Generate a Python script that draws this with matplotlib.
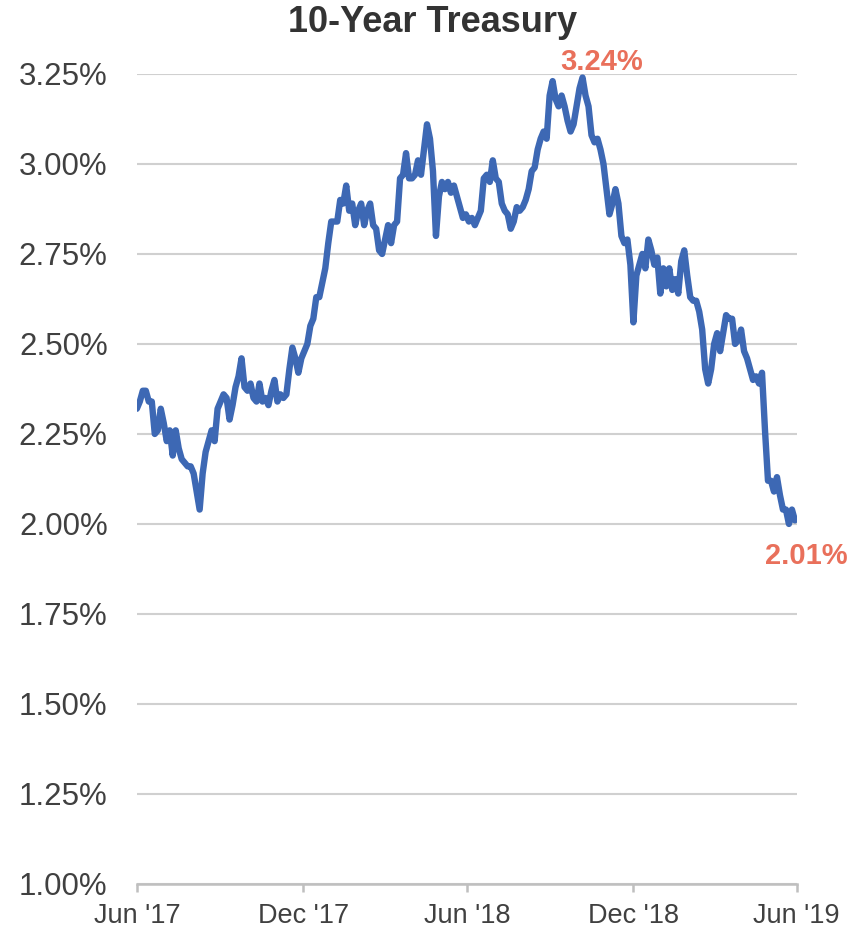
import pandas as pd
import matplotlib.pyplot as plt
import matplotlib.dates as mdates
from matplotlib.ticker import MultipleLocator, FuncFormatter, FixedLocator

plt.rcParams['font.family'] = ['Liberation Sans', 'DejaVu Sans']

# 10-year treasury yield (%), sampled roughly every 3-4 days, Jun 30 2017 .. Jun 28 2019
yields = [
    2.32, 2.34, 2.37, 2.37, 2.34, 2.34, 2.25, 2.26, 2.32, 2.28,
    2.23, 2.26, 2.19, 2.26, 2.21, 2.18, 2.17, 2.16, 2.16, 2.14,
    2.09, 2.04, 2.14, 2.20, 2.23, 2.26, 2.23, 2.32, 2.34, 2.36,
    2.35, 2.29, 2.33, 2.38, 2.41, 2.46, 2.38, 2.37, 2.39, 2.35,
    2.34, 2.39, 2.34, 2.35, 2.33, 2.37, 2.40, 2.34, 2.36, 2.35,
    2.36, 2.43, 2.49, 2.46, 2.42, 2.46, 2.48, 2.50, 2.55, 2.57,
    2.63, 2.63, 2.67, 2.71, 2.78, 2.84, 2.84, 2.84, 2.90, 2.89,
    2.94, 2.87, 2.89, 2.83, 2.87, 2.89, 2.83, 2.87, 2.89, 2.83,
    2.82, 2.76, 2.75, 2.79, 2.83, 2.78, 2.83, 2.84, 2.96, 2.97,
    3.03, 2.96, 2.96, 2.97, 3.01, 2.97, 3.04, 3.11, 3.07, 2.98,
    2.80, 2.91, 2.95, 2.93, 2.95, 2.92, 2.94, 2.91, 2.88, 2.85,
    2.86, 2.84, 2.85, 2.83, 2.85, 2.87, 2.96, 2.97, 2.95, 3.01,
    2.96, 2.95, 2.89, 2.87, 2.86, 2.82, 2.84, 2.88, 2.87, 2.88,
    2.90, 2.93, 2.98, 2.99, 3.04, 3.07, 3.09, 3.07, 3.19, 3.23,
    3.18, 3.16, 3.19, 3.16, 3.12, 3.09, 3.11, 3.16, 3.21, 3.24,
    3.19, 3.16, 3.08, 3.06, 3.07, 3.04, 3.00, 2.93, 2.86, 2.89,
    2.93, 2.89, 2.80, 2.78, 2.79, 2.72, 2.56, 2.69, 2.72, 2.75,
    2.71, 2.79, 2.76, 2.72, 2.74, 2.64, 2.71, 2.66, 2.71, 2.65,
    2.68, 2.64, 2.73, 2.76, 2.69, 2.63, 2.62, 2.62, 2.59, 2.54,
    2.43, 2.39, 2.43, 2.50, 2.53, 2.48, 2.53, 2.58, 2.57, 2.57,
    2.50, 2.51, 2.54, 2.48, 2.46, 2.43, 2.40, 2.41, 2.39, 2.42,
    2.26, 2.12, 2.12, 2.09, 2.13, 2.08, 2.04, 2.04, 2.00, 2.04,
    2.01,
]
dates = pd.date_range('2017-06-30', '2019-06-28', periods=len(yields))
tick_dates = pd.to_datetime(['2017-06-30', '2017-12-31', '2018-06-30',
                             '2018-12-31', '2019-06-30'])

line_color = '#3D68B4'
note_color = '#E9705B'
text_color = '#404040'
grid_color = '#D0D0D0'

fig = plt.figure(figsize=(8.66, 9.30), dpi=100)
ax = fig.add_axes([0.158, 0.0495, 0.762, 0.871])

ax.plot(dates, yields, color=line_color, linewidth=4.6, solid_joinstyle='round',
        solid_capstyle='round', zorder=3)

ax.set_ylim(1.0, 3.25)
ax.set_xlim(tick_dates[0], tick_dates[-1])
ax.yaxis.set_major_locator(MultipleLocator(0.25))
ax.yaxis.set_major_formatter(FuncFormatter(lambda v, p: f'{v:.2f}%'))
ax.xaxis.set_major_locator(FixedLocator(mdates.date2num(tick_dates)))
ax.xaxis.set_major_formatter(mdates.DateFormatter("%b '%y"))

ax.grid(axis='y', color=grid_color, linewidth=1.5)
ax.set_axisbelow(True)
for s in ['left', 'right', 'top']:
    ax.spines[s].set_visible(False)
ax.spines['bottom'].set_color('#BFBFBF')
ax.spines['bottom'].set_linewidth(1.8)
ax.tick_params(axis='y', length=0, pad=21, labelsize=22.5, labelcolor=text_color)
ax.tick_params(axis='x', length=6, width=1.8, color='#BFBFBF', pad=8,
               labelsize=19.5, labelcolor=text_color)

fig.text(0.5, 0.976, '10-Year Treasury', ha='center', va='center',
         fontsize=26, fontweight='bold', color='#333333')

# peak and last value labels
i_max = max(range(len(yields)), key=lambda i: yields[i])
ax.annotate(f'{yields[i_max]:.2f}%', xy=(dates[i_max], yields[i_max]),
            xytext=(14, 11.5), textcoords='offset points', ha='center', va='center',
            fontsize=21, fontweight='bold', color=note_color, annotation_clip=False)
ax.annotate(f'{yields[-1]:.2f}%', xy=(dates[-1], yields[-1]),
            xytext=(8, -26), textcoords='offset points', ha='center', va='center',
            fontsize=21, fontweight='bold', color=note_color, annotation_clip=False)

fig.savefig('out.png', dpi=100)
